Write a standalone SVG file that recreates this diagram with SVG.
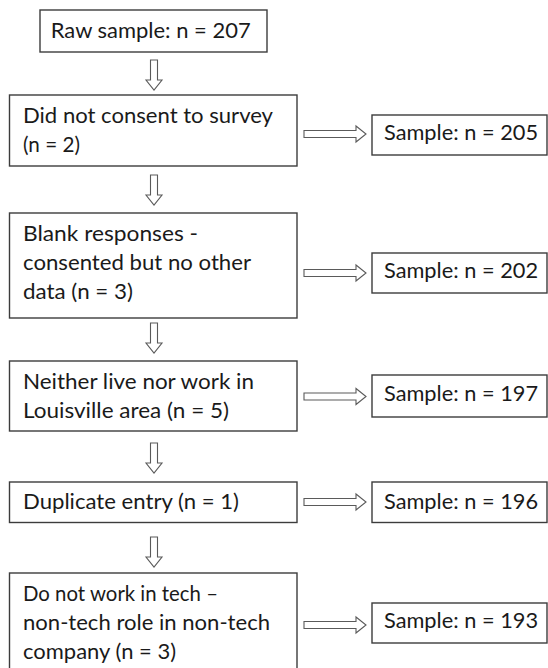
<svg xmlns="http://www.w3.org/2000/svg" width="548" height="668" viewBox="0 0 548 668">
<style>
.box{fill:#fff;stroke:#3c3c3c;stroke-width:1.4}
.t{font-family:Lato,"Open Sans","Liberation Sans",sans-serif;font-size:21.5px;fill:#1a1a1a}
.arr{fill:#fff;stroke:#5a5a5a;stroke-width:1.1;stroke-linejoin:miter}
</style>
<defs>
<polygon id="down" class="arr" points="-3.5,0 3.5,0 3.5,-10 8,-10 0,0 -8,-10 -3.5,-10" />
</defs>
<rect width="548" height="668" fill="#fff"/>
<g id="connectors">
<polygon class="arr" points="150.5,60 157.5,60 157.5,80 162,80 154,90 146,80 150.5,80"/>
<polygon class="arr" points="150.5,175 157.5,175 157.5,195 162,195 154,205 146,195 150.5,195"/>
<polygon class="arr" points="150.5,323 157.5,323 157.5,343 162,343 154,353 146,343 150.5,343"/>
<polygon class="arr" points="150.5,443 157.5,443 157.5,463 162,463 154,473 146,463 150.5,463"/>
<polygon class="arr" points="150.5,537 157.5,537 157.5,557 162,557 154,567 146,557 150.5,557"/>
<polygon class="arr" points="304,130.5 356,130.5 356,126 366,134 356,142 356,137.5 304,137.5"/>
<polygon class="arr" points="304,269.5 356,269.5 356,265 366,273 356,281 356,276.5 304,276.5"/>
<polygon class="arr" points="304,393 356,393 356,388.5 366,396.5 356,404.5 356,400 304,400"/>
<polygon class="arr" points="304,498.5 356,498.5 356,494 366,502 356,510 356,505.5 304,505.5"/>
<polygon class="arr" points="304,621.5 356,621.5 356,617 366,625 356,633 356,628.5 304,628.5"/>
</g>
<g id="raw">
<rect class="box" x="40" y="10" width="227" height="42"/>
<text class="t" x="50.7" y="37.5" textLength="200" lengthAdjust="spacingAndGlyphs">Raw sample: n = 207</text>
</g>
<g id="consent">
<rect class="box" x="9.5" y="95" width="287.5" height="71"/>
<text class="t" x="23" y="123" textLength="250" lengthAdjust="spacingAndGlyphs">Did not consent to survey</text>
<text class="t" x="23" y="152" textLength="57" lengthAdjust="spacingAndGlyphs">(n = 2)</text>
</g>
<g id="s205">
<rect class="box" x="372" y="115" width="175" height="40"/>
<text class="t" x="384" y="140" textLength="154" lengthAdjust="spacingAndGlyphs">Sample: n = 205</text>
</g>
<g id="blank">
<rect class="box" x="9.5" y="213" width="287.5" height="105"/>
<text class="t" x="23" y="241" textLength="175" lengthAdjust="spacingAndGlyphs">Blank responses -</text>
<text class="t" x="23" y="270" textLength="228" lengthAdjust="spacingAndGlyphs">consented but no other</text>
<text class="t" x="23" y="299" textLength="110" lengthAdjust="spacingAndGlyphs">data (n = 3)</text>
</g>
<g id="s202">
<rect class="box" x="372" y="253" width="175" height="40"/>
<text class="t" x="384" y="278" textLength="154" lengthAdjust="spacingAndGlyphs">Sample: n = 202</text>
</g>
<g id="louisville">
<rect class="box" x="9.5" y="361" width="287.5" height="70"/>
<text class="t" x="23" y="389" textLength="231" lengthAdjust="spacingAndGlyphs">Neither live nor work in</text>
<text class="t" x="23" y="418" textLength="206" lengthAdjust="spacingAndGlyphs">Louisville area (n = 5)</text>
</g>
<g id="s197">
<rect class="box" x="372" y="375" width="175" height="42"/>
<text class="t" x="384" y="401" textLength="154" lengthAdjust="spacingAndGlyphs">Sample: n = 197</text>
</g>
<g id="duplicate">
<rect class="box" x="9.5" y="482" width="287.5" height="40.5"/>
<text class="t" x="23" y="509" textLength="216" lengthAdjust="spacingAndGlyphs">Duplicate entry (n = 1)</text>
</g>
<g id="s196">
<rect class="box" x="372" y="482" width="175" height="40.5"/>
<text class="t" x="384" y="509" textLength="154" lengthAdjust="spacingAndGlyphs">Sample: n = 196</text>
</g>
<g id="nontech">
<rect class="box" x="9.5" y="573" width="287.5" height="110"/>
<text class="t" x="23" y="601" textLength="195" lengthAdjust="spacingAndGlyphs">Do not work in tech –</text>
<text class="t" x="23" y="630" textLength="247" lengthAdjust="spacingAndGlyphs">non-tech role in non-tech</text>
<text class="t" x="23" y="659" textLength="153" lengthAdjust="spacingAndGlyphs">company (n = 3)</text>
</g>
<g id="s193">
<rect class="box" x="372" y="603" width="175" height="40"/>
<text class="t" x="384" y="628" textLength="154" lengthAdjust="spacingAndGlyphs">Sample: n = 193</text>
</g>
</svg>
